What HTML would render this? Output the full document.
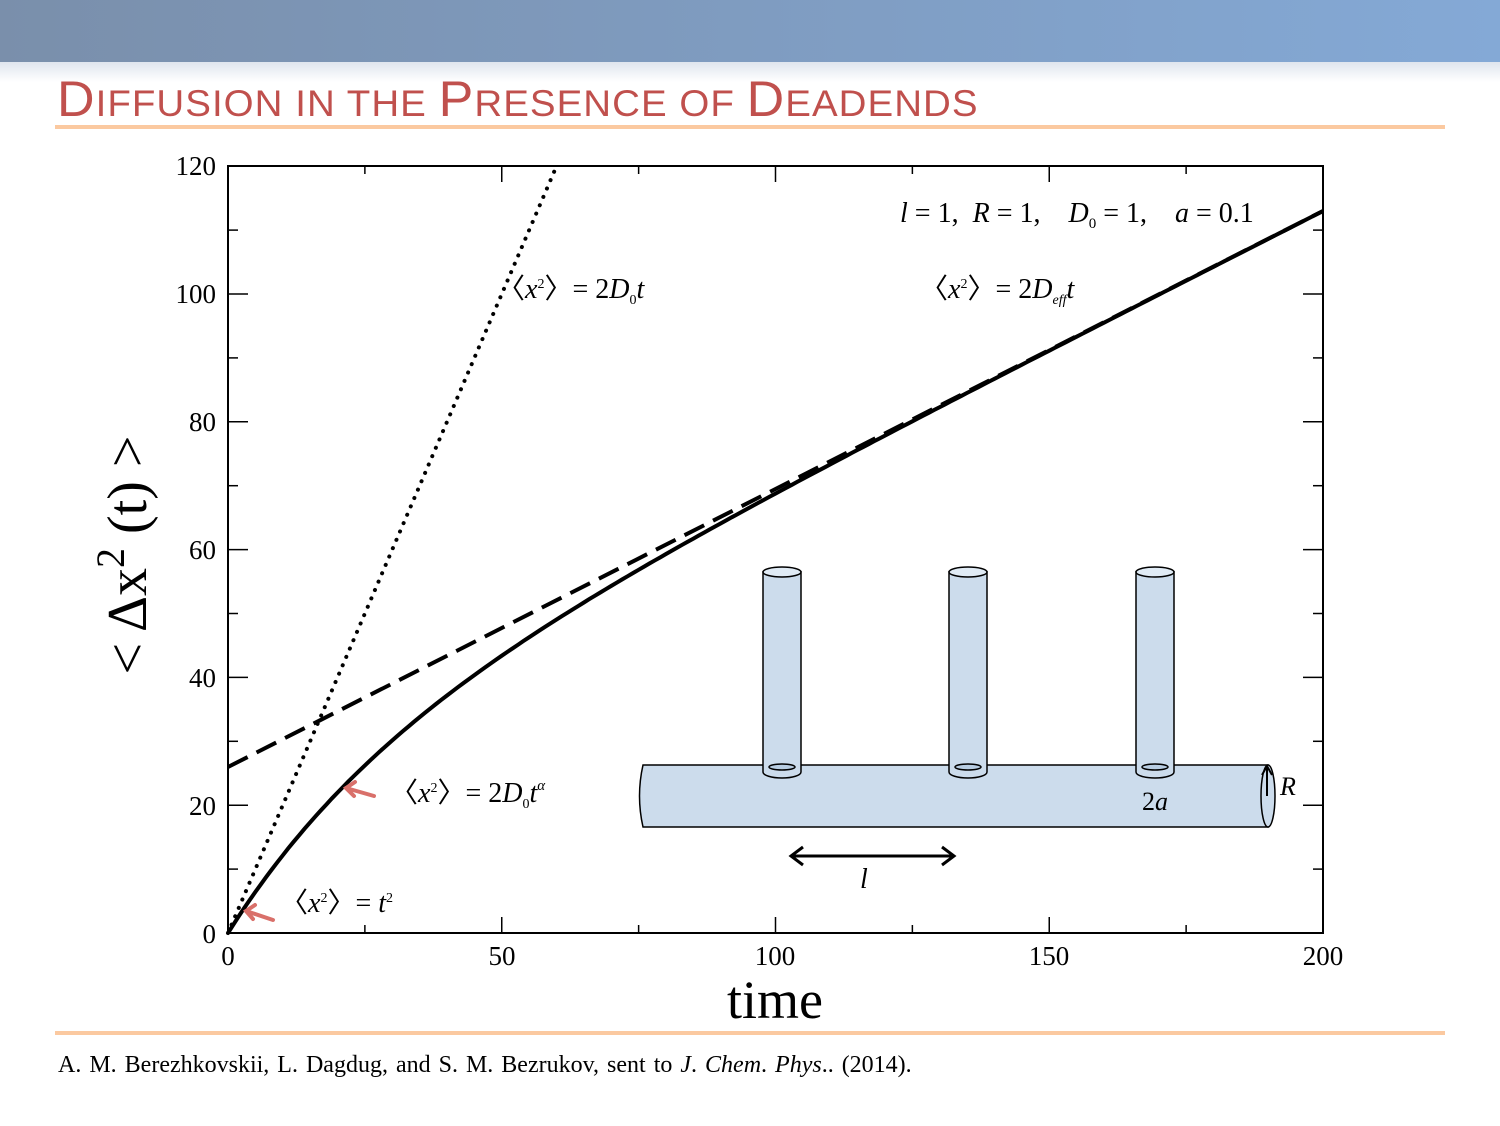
<!DOCTYPE html>
<html><head><meta charset="utf-8"><style>
body{margin:0;width:1500px;height:1126px;overflow:hidden;background:#fff;font-family:"Liberation Serif",serif}
#hdr{position:absolute;left:0;top:0;width:1500px;height:62px;background:linear-gradient(90deg,#7a8fab,#84a9d6)}
#hdr2{position:absolute;left:0;top:62px;width:1500px;height:20px;background:linear-gradient(#dfe5ee,#fff)}
#title{position:absolute;left:57px;top:70px;font-family:"Liberation Sans",sans-serif;color:#c0504d;font-size:50px;letter-spacing:1px;white-space:nowrap;transform-origin:0 0;transform:scaleX(1.04)}
#title small{font-size:37px}
.bar{position:absolute;left:55px;width:1390px;height:4px;background:#fbc9a0}
#cite{position:absolute;left:58px;top:1052px;font-size:24px;word-spacing:2px;white-space:nowrap}
svg text{white-space:pre}
</style></head><body>
<div id="hdr"></div><div id="hdr2"></div>
<div id="title">D<small>IFFUSION IN THE </small>P<small>RESENCE OF </small>D<small>EADENDS</small></div>
<div class="bar" style="top:125px"></div>
<div class="bar" style="top:1031px"></div>
<div id="cite">A. M. Berezhkovskii, L. Dagdug, and S. M. Bezrukov, sent to <i>J</i>. <i>Chem</i>. <i>Phys</i>.. (2014).</div>
<svg width="1500" height="1126" style="position:absolute;left:0;top:0" font-family="Liberation Serif, serif">
<g id="ticks" stroke="#000" stroke-width="1.5"></g>
<rect x="228" y="166" width="1095" height="767" fill="none" stroke="#000" stroke-width="2"/>
<g font-size="27" text-anchor="end">
<text x="216" y="943">0</text><text x="216" y="815">20</text><text x="216" y="687">40</text><text x="216" y="559">60</text><text x="216" y="431">80</text><text x="216" y="303">100</text><text x="216" y="175">120</text>
</g>
<g font-size="27" text-anchor="middle">
<text x="228" y="965">0</text><text x="502" y="965">50</text><text x="775" y="965">100</text><text x="1049" y="965">150</text><text x="1323" y="965">200</text>
</g>
<text x="775" y="1018" font-size="54" text-anchor="middle">time</text>
<text transform="translate(146,555) rotate(-90)" font-size="56" text-anchor="middle">&lt; Δx<tspan font-size="40" dy="-22">2</tspan><tspan dy="22"> (t) &gt;</tspan></text>
<path id="dot" fill="none" stroke="#000" stroke-width="4" stroke-dasharray="0.1 9" stroke-linecap="round"/>
<line x1="228" y1="767" x2="1323" y2="211" stroke="#000" stroke-width="4" stroke-dasharray="22 10"/>
<path id="sol" fill="none" stroke="#000" stroke-width="4"/>
<g stroke="#000" stroke-width="1.5" fill="#ccdcec">
<path d="M643 765 L1268 765 L1268 827 L643 827 Q636 796 643 765Z"/>
<ellipse cx="1268" cy="796" rx="7" ry="31"/>
<g id="tubes"></g>
</g>
<line x1="1267" y1="796" x2="1267" y2="768" stroke="#000" stroke-width="2"/>
<path d="M1262 775 L1267 766 L1272 775" fill="none" stroke="#000" stroke-width="2"/>
<text x="1280" y="795" font-size="26" font-style="italic">R</text>
<text x="1142" y="810" font-size="26">2<tspan font-style="italic">a</tspan></text>
<line x1="792" y1="856" x2="953" y2="856" stroke="#000" stroke-width="3"/>
<path d="M803 847 L791 856 L803 865 M942 847 L954 856 L942 865" fill="none" stroke="#000" stroke-width="3"/>
<text x="860" y="888" font-size="28" font-style="italic">l</text>
<g font-size="28">
<text x="900" y="222"><tspan font-style="italic">l</tspan> = 1,  <tspan font-style="italic">R</tspan> = 1,    <tspan font-style="italic">D</tspan><tspan font-size="15" dy="6">0</tspan><tspan dy="-6"> = 1,    </tspan><tspan font-style="italic">a</tspan> = 0.1</text>
<text x="497" y="298">〈<tspan font-style="italic">x</tspan><tspan font-size="14" dy="-10">2</tspan><tspan dy="10">〉= 2</tspan><tspan font-style="italic">D</tspan><tspan font-size="14" dy="6">0</tspan><tspan dy="-6" font-style="italic">t</tspan></text>
<text x="920" y="298">〈<tspan font-style="italic">x</tspan><tspan font-size="14" dy="-10">2</tspan><tspan dy="10">〉= 2</tspan><tspan font-style="italic">D</tspan><tspan font-size="14" dy="6" font-style="italic">eff</tspan><tspan dy="-6" font-style="italic">t</tspan></text>
<text x="390" y="802">〈<tspan font-style="italic">x</tspan><tspan font-size="14" dy="-10">2</tspan><tspan dy="10">〉= 2</tspan><tspan font-style="italic">D</tspan><tspan font-size="14" dy="6">0</tspan><tspan dy="-6" font-style="italic">t</tspan><tspan font-size="15" dy="-12" font-style="italic">α</tspan></text>
<text x="280" y="912">〈<tspan font-style="italic">x</tspan><tspan font-size="14" dy="-10">2</tspan><tspan dy="10">〉= </tspan><tspan font-style="italic">t</tspan><tspan font-size="14" dy="-10">2</tspan></text>
</g>
<g stroke="#d9706a" stroke-width="4" fill="none" stroke-linecap="round">
<path d="M374 796 L346 788 M355 782 L346 788 L354 796"/>
<path d="M273 920 L246 911 M255 905 L246 911 L253 919"/>
</g>
</svg>
<script>
var X=t=>228+t*5.475,Y=v=>933-v*6.39;
var g=document.getElementById('ticks'),s='';
for(var t=0;t<=200;t+=25){var L=t%50?8:16;s+=`<line x1="${X(t)}" y1="933" x2="${X(t)}" y2="${933-L}"/><line x1="${X(t)}" y1="166" x2="${X(t)}" y2="${166+L}"/>`}
for(var v=0;v<=120;v+=10){var L=v%20?10:20;s+=`<line x1="228" y1="${Y(v)}" x2="${228+L}" y2="${Y(v)}"/><line x1="1323" y1="${Y(v)}" x2="${1323-L}" y2="${Y(v)}"/>`}
g.innerHTML=s;
document.getElementById('dot').setAttribute('d',`M${X(0)} ${Y(0)} L${X(60)} ${Y(120)}`);
var d='';for(var t=0;t<=200;t+=1){var v=0.435*t+26*(1-Math.exp(-t/28));d+=(t?'L':'M')+X(t).toFixed(1)+' '+Y(v).toFixed(1)}
document.getElementById('sol').setAttribute('d',d);
var tb='';[782,968,1155].forEach(c=>{tb+=`<path d="M${c-19} 572 L${c-19} 772 A19 6 0 0 0 ${c+19} 772 L${c+19} 572Z"/><ellipse cx="${c}" cy="572" rx="19" ry="5" fill="#e0ebf5"/><ellipse cx="${c}" cy="767" rx="13" ry="3" fill="#b8cde2"/>`});
document.getElementById('tubes').innerHTML=tb;
</script>
</body></html>
